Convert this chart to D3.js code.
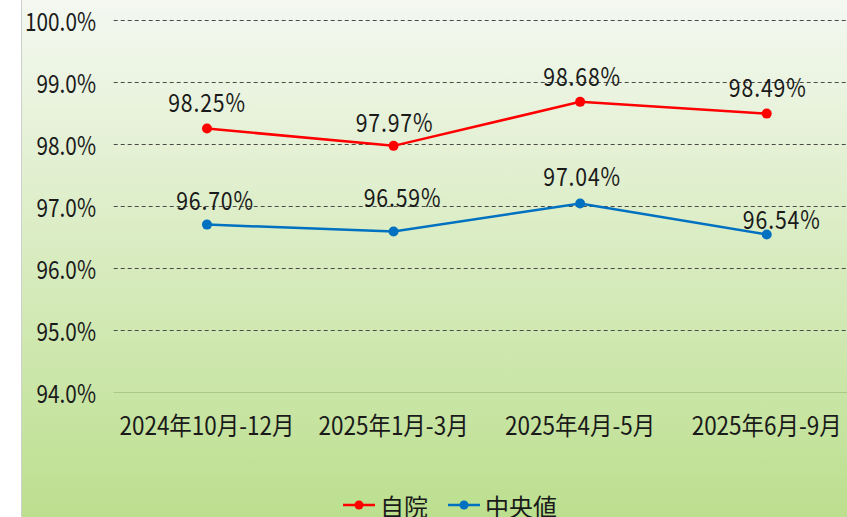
<!DOCTYPE html>
<html>
<head>
<meta charset="utf-8">
<script src="https://cdn.jsdelivr.net/npm/d3@7"></script>
<style>
  body { margin: 0; background: #fff; }
  svg { display: block; }
  text { font-family: "Noto Sans CJK JP", "Noto Sans", sans-serif; fill: #1a1a1a; }
</style>
</head>
<body>
<div id="chart"></div>
<script>
// data
const periods = ["2024年10月-12月", "2025年1月-3月", "2025年4月-5月", "2025年6月-9月"];
const ownValues = [98.25, 97.97, 98.68, 98.49];     // 自院
const medianValues = [96.70, 96.59, 97.04, 96.54];  // 中央値
const yTicks = [94, 95, 96, 97, 98, 99, 100];
const seriesNames = ["自院", "中央値"];

// label nudges (hand-placed in the original)
const ownLabelShift = [[0, -27], [1, -25], [2, -27], [1, -27]];
const medLabelShift = [[8, -25], [9, -35], [2, -28], [15, -16]];

const width = 847, height = 517;
const margin = {top: 20, left: 113.7, bottom: 125};

const svg = d3.select("#chart").append("svg")
    .attr("width", width)
    .attr("height", height);

const grad = svg.append("defs").append("linearGradient")
    .attr("id", "bg")
    .attr("x1", 0).attr("y1", 0).attr("x2", 0).attr("y2", 1);
grad.append("stop").attr("offset", "0%").attr("stop-color", "#f4f8f1");
grad.append("stop").attr("offset", "100%").attr("stop-color", "#bcdf8e");

// chart area background
svg.append("rect")
    .attr("x", 21).attr("y", 0)
    .attr("width", width - 21).attr("height", height)
    .attr("fill", "url(#bg)");
svg.append("line")
    .attr("x1", 21.5).attr("x2", 21.5)
    .attr("y1", 0).attr("y2", height)
    .attr("stroke", "#cfcfcf");

const x = d3.scalePoint()
    .domain(periods)
    .range([margin.left, 860])
    .padding(0.5);

const y = d3.scaleLinear()
    .domain([94, 100])
    .range([height - margin.bottom, margin.top]);

// helper: the original font is tall and narrow, so squeeze it sideways
function narrowText(g, px, py, str, opts) {
    return g.append("text")
        .attr("transform", `translate(${px},${py}) scale(${opts.sx},1)`)
        .attr("text-anchor", opts.anchor || "middle")
        .attr("dominant-baseline", "central")
        .attr("font-size", opts.size)
        .attr("letter-spacing", opts.ls || 0)
        .text(str);
}

// grid lines
svg.append("g")
    .selectAll("line")
    .data(yTicks.filter(d => d > 94))
    .join("line")
    .attr("x1", margin.left).attr("x2", width)
    .attr("y1", d => Math.round(y(d)) + 0.5)
    .attr("y2", d => Math.round(y(d)) + 0.5)
    .attr("stroke", "#4a4a4a")
    .attr("stroke-width", 1)
    .attr("stroke-dasharray", "4,3");

svg.append("line")
    .attr("x1", margin.left).attr("x2", width)
    .attr("y1", Math.round(y(94)) + 0.5).attr("y2", Math.round(y(94)) + 0.5)
    .attr("stroke", "#a9c98a")
    .attr("stroke-width", 1);

// y axis labels
const yLab = svg.append("g");
yTicks.forEach(t => narrowText(yLab, 96, y(t), d3.format(".1f")(t) + "%",
    {size: 25, sx: 0.83, anchor: "end"}));

// x axis labels
const xLab = svg.append("g");
periods.forEach(p => narrowText(xLab, x(p), 424, p, {size: 25, sx: 0.9}));

const line = d3.line()
    .x((d, i) => x(periods[i]))
    .y(d => y(d));

const series = [
    {name: seriesNames[0], values: ownValues, color: "#ff0000", shift: ownLabelShift},
    {name: seriesNames[1], values: medianValues, color: "#0070c0", shift: medLabelShift}
];

series.forEach(s => {
    svg.append("path")
        .datum(s.values)
        .attr("fill", "none")
        .attr("stroke", s.color)
        .attr("stroke-width", 2.5)
        .attr("d", line);

    svg.append("g")
        .selectAll("circle")
        .data(s.values)
        .join("circle")
        .attr("cx", (d, i) => x(periods[i]))
        .attr("cy", d => y(d))
        .attr("r", 5)
        .attr("fill", s.color);

    const lab = svg.append("g");
    s.values.forEach((v, i) => {
        narrowText(lab, x(periods[i]) + s.shift[i][0], y(v) + s.shift[i][1],
            d3.format(".2f")(v) + "%", {size: 25, sx: 0.85, ls: 1});
    });
});

// legend
const legend = svg.append("g").attr("transform", "translate(343,505)");
const legendX = [0, 105];
series.forEach((s, i) => {
    const g = legend.append("g").attr("transform", `translate(${legendX[i]},0)`);
    g.append("line")
        .attr("x1", 0).attr("x2", 32)
        .attr("stroke", s.color).attr("stroke-width", 2.5);
    g.append("circle")
        .attr("cx", 16).attr("r", 4.5)
        .attr("fill", s.color);
    g.append("text")
        .attr("x", 37)
        .attr("dominant-baseline", "central")
        .attr("font-size", 24)
        .text(s.name);
});
</script>
</body>
</html>
